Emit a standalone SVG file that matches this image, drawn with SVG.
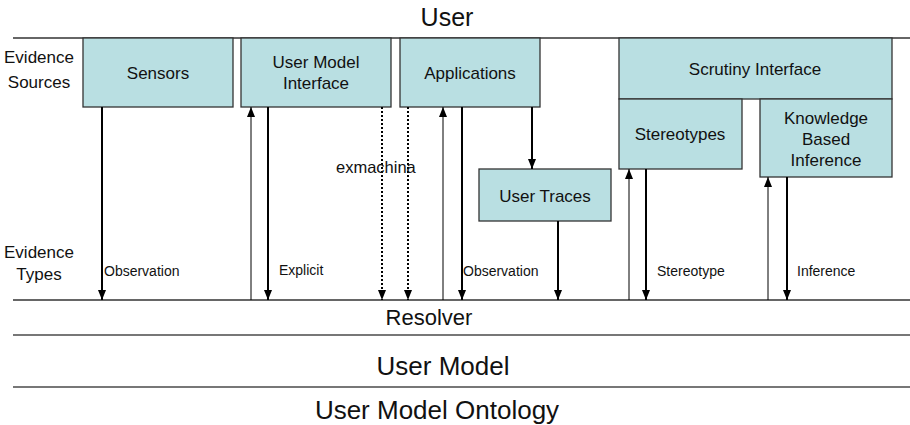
<svg xmlns="http://www.w3.org/2000/svg" width="910" height="425" viewBox="0 0 910 425">
  <defs>
    <marker id="headUp" viewBox="0 0 8 10" refX="4" refY="0" markerWidth="8" markerHeight="10" markerUnits="userSpaceOnUse" orient="0">
      <path d="M0,10 L8,10 L4,0 Z" fill="#000"/>
    </marker>
    <marker id="headDown" viewBox="0 0 8 10" refX="4" refY="10" markerWidth="8" markerHeight="10" markerUnits="userSpaceOnUse" orient="0">
      <path d="M0,0 L8,0 L4,10 Z" fill="#000"/>
    </marker>
  </defs>
  <style>
    text { font-family: "Liberation Sans", Arial, sans-serif; fill: #111; }
    .box { fill: #b9dfe2; stroke: #333; stroke-width: 1.3; }
    .lbl { font-size: 17px; text-anchor: middle; }
    .side { font-size: 17px; text-anchor: middle; }
    .etype { font-size: 14px; }
    .rule { stroke: #333; stroke-width: 1.3; }
    .band { stroke: #777; stroke-width: 2; }
    .down { stroke: #000; stroke-width: 2; fill: none; marker-end: url(#headDown); }
    .up { stroke: #000; stroke-width: 1; fill: none; marker-end: url(#headUp); }
    .dot { stroke: #000; stroke-width: 2; stroke-dasharray: 2 2; fill: none; marker-end: url(#headDown); }
  </style>

  <!-- layer rules and layer titles -->
  <g id="layers">
    <line class="rule" x1="13" y1="38" x2="910" y2="38"/>
    <line class="rule" x1="13" y1="300" x2="910" y2="300"/>
    <line class="band" x1="13" y1="335" x2="910" y2="335"/>
    <line class="band" x1="13" y1="387" x2="910" y2="387"/>
    <text x="447" y="26" style="font-size:25px" text-anchor="middle">User</text>
    <text x="429" y="325" style="font-size:22px" text-anchor="middle">Resolver</text>
    <text x="443" y="375" style="font-size:26px" text-anchor="middle">User Model</text>
    <text x="437" y="419" style="font-size:26px" text-anchor="middle">User Model Ontology</text>
    <text class="side" x="39" y="63">Evidence</text>
    <text class="side" x="39" y="88">Sources</text>
    <text class="side" x="39" y="258">Evidence</text>
    <text class="side" x="39" y="280">Types</text>
  </g>

  <!-- evidence sources -->
  <g id="sensors">
    <rect class="box" x="83" y="38" width="150" height="69"/>
    <text class="lbl" x="158" y="79">Sensors</text>
  </g>
  <g id="user-model-interface">
    <rect class="box" x="241" y="38" width="150" height="69"/>
    <text class="lbl" x="316" y="68">User Model</text>
    <text class="lbl" x="316" y="89">Interface</text>
  </g>
  <g id="applications">
    <rect class="box" x="400" y="38" width="140" height="69"/>
    <text class="lbl" x="470" y="79">Applications</text>
  </g>
  <g id="user-traces">
    <rect class="box" x="479" y="169" width="132" height="52"/>
    <text class="lbl" x="545" y="202">User Traces</text>
  </g>
  <g id="scrutiny-interface">
    <rect class="box" x="619" y="38" width="273" height="61"/>
    <text class="lbl" x="755" y="75">Scrutiny Interface</text>
  </g>
  <g id="stereotypes">
    <rect class="box" x="619" y="99" width="123" height="70"/>
    <text class="lbl" x="680" y="140">Stereotypes</text>
  </g>
  <g id="knowledge-based-inference">
    <rect class="box" x="760" y="99" width="132" height="78"/>
    <text class="lbl" x="826" y="124">Knowledge</text>
    <text class="lbl" x="826" y="145">Based</text>
    <text class="lbl" x="826" y="166">Inference</text>
  </g>

  <!-- connectors -->
  <g id="connectors">
    <line class="down" x1="102" y1="107" x2="102" y2="300"/>
    <line class="up" x1="251" y1="300" x2="251" y2="107"/>
    <line class="down" x1="268" y1="107" x2="268" y2="300"/>
    <line class="dot" x1="382" y1="107" x2="382" y2="300"/>
    <line class="dot" x1="408" y1="107" x2="408" y2="300"/>
    <line class="up" x1="443" y1="300" x2="443" y2="107"/>
    <line class="down" x1="462" y1="107" x2="462" y2="300"/>
    <line class="down" x1="532" y1="107" x2="532" y2="169"/>
    <line class="down" x1="558" y1="221" x2="558" y2="300"/>
    <line class="up" x1="629" y1="300" x2="629" y2="169"/>
    <line class="down" x1="646" y1="169" x2="646" y2="300"/>
    <line class="up" x1="768" y1="300" x2="768" y2="177"/>
    <line class="down" x1="787" y1="177" x2="787" y2="300"/>
    <text class="etype" x="104" y="276">Observation</text>
    <text class="etype" x="279" y="275">Explicit</text>
    <text class="etype" x="336" y="173" style="font-size:16.5px">exmachina</text>
    <text class="etype" x="463" y="276">Observation</text>
    <text class="etype" x="657" y="276">Stereotype</text>
    <text class="etype" x="797" y="276">Inference</text>
  </g>
</svg>
